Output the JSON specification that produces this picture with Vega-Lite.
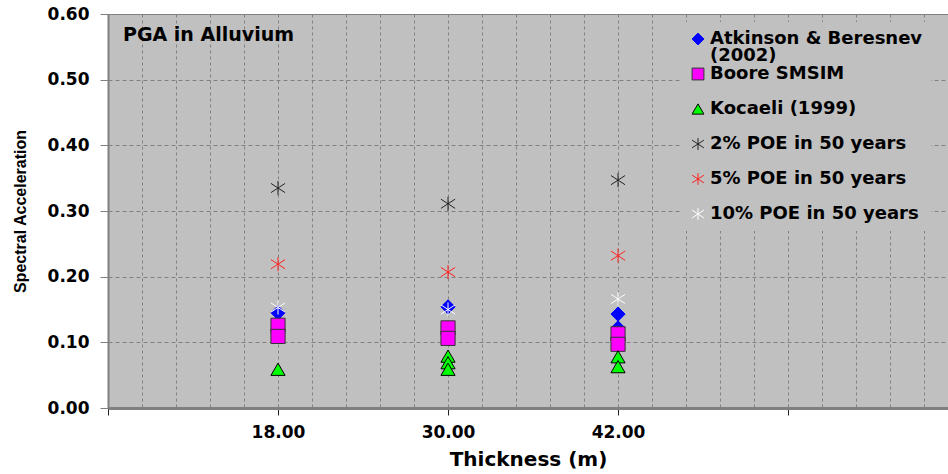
{
  "$schema": "https://vega.github.io/schema/vega-lite/v6.json",
  "width": 840,
  "height": 394,
  "autosize": {"type": "none"},
  "padding": {"left": 108, "top": 14, "right": 0, "bottom": 66},
  "background": "white",
  "title": {
    "text": "PGA in Alluvium",
    "orient": "top",
    "anchor": "start",
    "frame": "group",
    "baseline": "middle",
    "offset": 0,
    "dx": 15,
    "dy": 49,
    "font": "DejaVu Sans",
    "fontSize": 19,
    "fontWeight": "bold",
    "color": "black"
  },
  "config": {
    "view": {"fill": "#C0C0C0", "stroke": "#808080", "strokeWidth": 1},
    "style": {"guide-label": {"lineHeight": 17}}
  },
  "data": {
    "values": [
      {"series": "Atkinson & Beresnev (2002)", "thickness": 18, "sa": 0.119},
      {"series": "Atkinson & Beresnev (2002)", "thickness": 18, "sa": 0.145},
      {"series": "Atkinson & Beresnev (2002)", "thickness": 30, "sa": 0.154},
      {"series": "Atkinson & Beresnev (2002)", "thickness": 42, "sa": 0.143},
      {"series": "Atkinson & Beresnev (2002)", "thickness": 42, "sa": 0.122},
      {"series": "Boore SMSIM", "thickness": 18, "sa": 0.126},
      {"series": "Boore SMSIM", "thickness": 18, "sa": 0.109},
      {"series": "Boore SMSIM", "thickness": 30, "sa": 0.122},
      {"series": "Boore SMSIM", "thickness": 30, "sa": 0.106},
      {"series": "Boore SMSIM", "thickness": 42, "sa": 0.113},
      {"series": "Boore SMSIM", "thickness": 42, "sa": 0.097},
      {"series": "Kocaeli (1999)", "thickness": 18, "sa": 0.059},
      {"series": "Kocaeli (1999)", "thickness": 30, "sa": 0.079},
      {"series": "Kocaeli (1999)", "thickness": 30, "sa": 0.069},
      {"series": "Kocaeli (1999)", "thickness": 30, "sa": 0.059},
      {"series": "Kocaeli (1999)", "thickness": 42, "sa": 0.078},
      {"series": "Kocaeli (1999)", "thickness": 42, "sa": 0.063},
      {"series": "2% POE in 50 years", "thickness": 18, "sa": 0.335},
      {"series": "2% POE in 50 years", "thickness": 30, "sa": 0.311},
      {"series": "2% POE in 50 years", "thickness": 42, "sa": 0.347},
      {"series": "5% POE in 50 years", "thickness": 18, "sa": 0.219},
      {"series": "5% POE in 50 years", "thickness": 30, "sa": 0.207},
      {"series": "5% POE in 50 years", "thickness": 42, "sa": 0.232},
      {"series": "10% POE in 50 years", "thickness": 18, "sa": 0.153},
      {"series": "10% POE in 50 years", "thickness": 30, "sa": 0.150},
      {"series": "10% POE in 50 years", "thickness": 42, "sa": 0.166}
    ]
  },
  "mark": {"type": "point", "filled": false, "size": 200, "strokeWidth": 1, "opacity": 1},
  "encoding": {
    "x": {
      "field": "thickness",
      "type": "quantitative",
      "scale": {"domain": [6, 65.29], "nice": false, "zero": false},
      "axis": {
        "values": [6, 8.4, 10.8, 13.2, 15.6, 18, 20.4, 22.8, 25.2, 27.6, 30, 32.4, 34.8, 37.2, 39.6, 42, 44.4, 46.8, 49.2, 51.6, 54, 56.4, 58.8, 61.2, 63.6],
        "labelExpr": "indexof([18, 30, 42], datum.value) >= 0 ? format(datum.value, '.2f') : ''",
        "labelOverlap": false,
        "labelFlush": false,
        "labelFont": "DejaVu Sans",
        "labelFontSize": 17,
        "labelFontWeight": "bold",
        "labelColor": "black",
        "labelBaseline": "top",
        "labelPadding": 9,
        "tickSize": 7,
        "tickColor": "#222222",
        "tickOpacity": {"condition": {"test": "indexof([6, 18, 30, 42, 54], datum.value) >= 0", "value": 1}, "value": 0},
        "grid": true,
        "gridColor": "#808080",
        "gridDash": [3, 3],
        "gridWidth": 1,
        "domainColor": "#808080",
        "domainWidth": 3,
        "title": "Thickness (m)",
        "titleFont": "DejaVu Sans",
        "titleFontSize": 20,
        "titleFontWeight": "bold",
        "titleColor": "black",
        "titlePadding": 9
      }
    },
    "y": {
      "field": "sa",
      "type": "quantitative",
      "scale": {"domain": [0, 0.6], "nice": false, "zero": true},
      "axis": {
        "values": [0, 0.1, 0.2, 0.3, 0.4, 0.5, 0.6],
        "format": ".2f",
        "labelOverlap": false,
        "labelFont": "DejaVu Sans",
        "labelFontSize": 17,
        "labelFontWeight": "bold",
        "labelColor": "black",
        "labelPadding": 11,
        "tickSize": 8,
        "tickColor": "#808080",
        "grid": true,
        "gridColor": "#808080",
        "gridDash": [4, 3],
        "gridWidth": 1,
        "domainColor": "#808080",
        "domainWidth": 2,
        "title": "Spectral Acceleration",
        "titleFont": "Liberation Sans",
        "titleFontSize": 16,
        "titleFontWeight": "bold",
        "titleColor": "black",
        "titleX": -80,
        "titleBaseline": "bottom"
      }
    },
    "shape": {
      "field": "series",
      "type": "nominal",
      "scale": {
        "domain": ["Atkinson & Beresnev (2002)", "Boore SMSIM", "Kocaeli (1999)", "2% POE in 50 years", "5% POE in 50 years", "10% POE in 50 years"],
        "range": ["diamond", "square", "triangle-up", "M0,-1L0,1M-1,-0.65L1,0.65M-1,0.65L1,-0.65", "M0,-1L0,1M-1,-0.65L1,0.65M-1,0.65L1,-0.65", "M0,-1L0,1M-1,-0.65L1,0.65M-1,0.65L1,-0.65"]
      },
      "legend": {
        "title": null,
        "orient": "none",
        "legendX": 573,
        "legendY": 8,
        "fillColor": "#C0C0C0",
        "padding": 8,
        "rowPadding": 0,
        "gridAlign": "all",
        "labelFont": "DejaVu Sans",
        "labelFontSize": 18,
        "labelFontWeight": "bold",
        "labelColor": "black",
        "labelOffset": 3,
        "labelLimit": 400,
        "symbolSize": 140,
        "symbolStrokeWidth": 1,
        "labelExpr": "datum.label == 'Atkinson & Beresnev (2002)' ? ['Atkinson & Beresnev', '(2002)'] : datum.label"
      }
    },
    "fill": {
      "field": "series",
      "type": "nominal",
      "scale": {
        "domain": ["Atkinson & Beresnev (2002)", "Boore SMSIM", "Kocaeli (1999)", "2% POE in 50 years", "5% POE in 50 years", "10% POE in 50 years"],
        "range": ["#0000FF", "#FF00FF", "#00FF00", "transparent", "transparent", "transparent"]
      },
      "legend": {"title": null}
    },
    "stroke": {
      "field": "series",
      "type": "nominal",
      "scale": {
        "domain": ["Atkinson & Beresnev (2002)", "Boore SMSIM", "Kocaeli (1999)", "2% POE in 50 years", "5% POE in 50 years", "10% POE in 50 years"],
        "range": ["#0000FF", "#333333", "#000000", "#222222", "#FF2020", "#FFFFFF"]
      },
      "legend": {"title": null}
    }
  }
}
